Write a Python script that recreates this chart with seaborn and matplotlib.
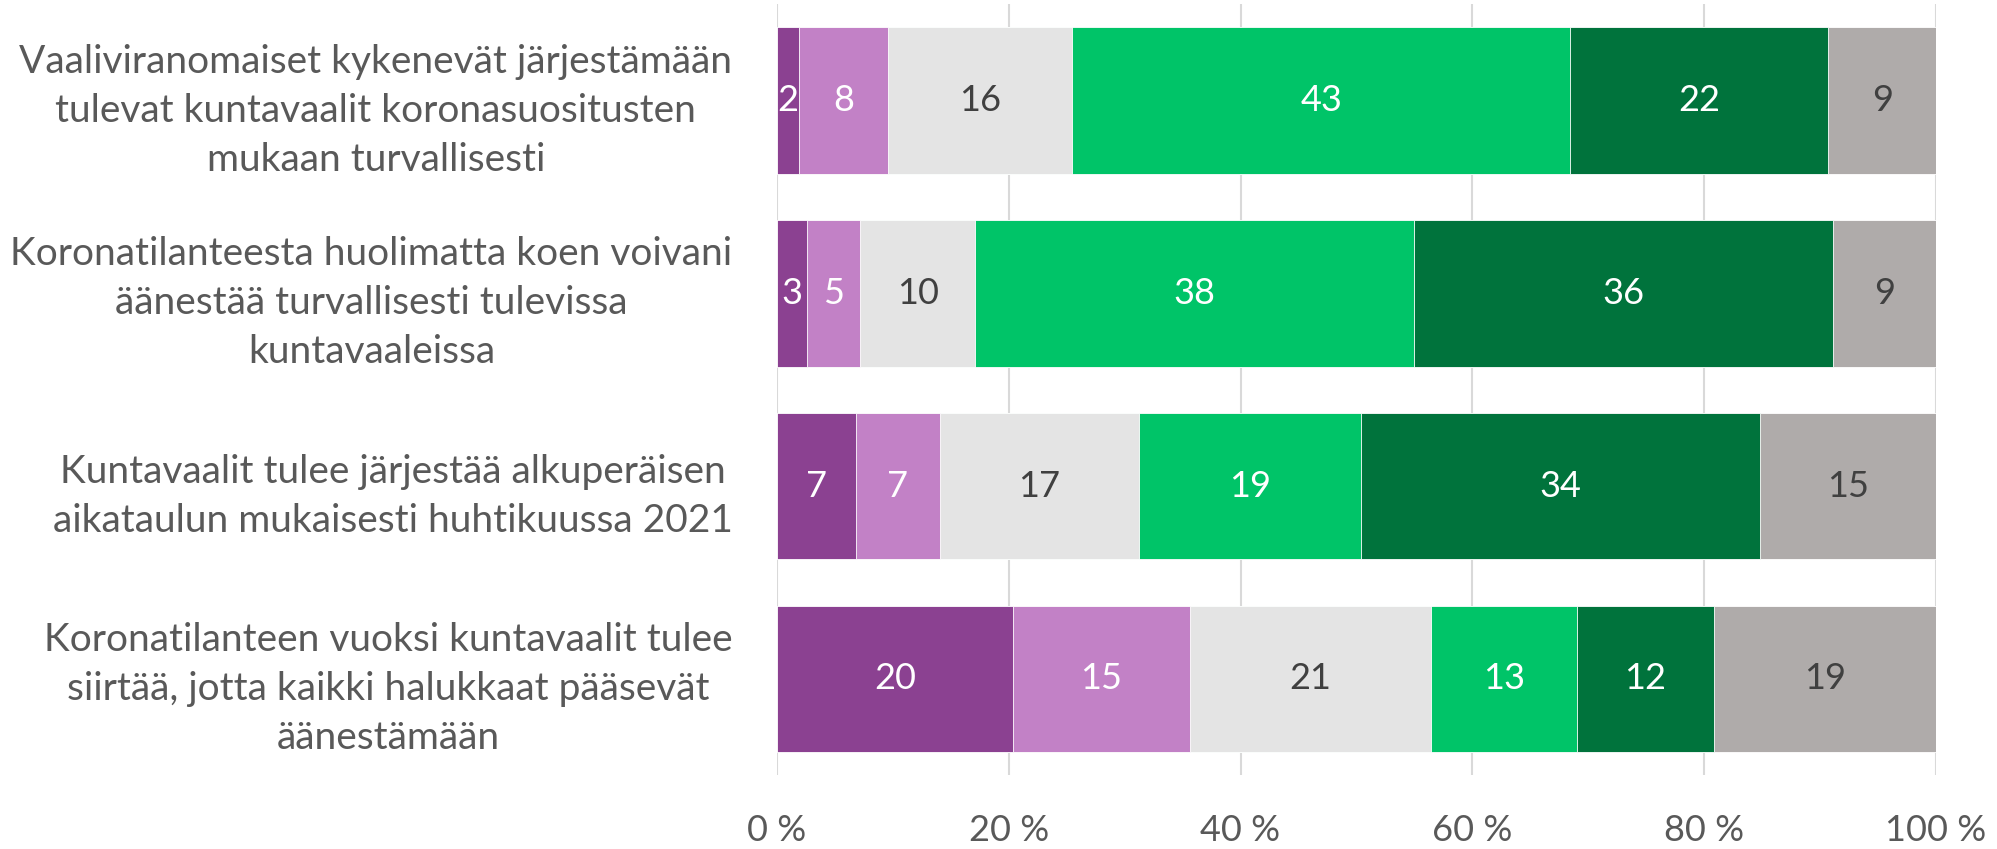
import numpy as np
import pandas as pd
import matplotlib
matplotlib.use("Agg")
import matplotlib.pyplot as plt
import seaborn as sns

# ---- data ----
statements = [
    "Vaaliviranomaiset kykenevät järjestämään\ntulevat kuntavaalit koronasuositusten\nmukaan turvallisesti",
    "Koronatilanteesta huolimatta koen voivani\näänestää turvallisesti tulevissa\nkuntavaaleissa",
    "Kuntavaalit tulee järjestää alkuperäisen\naikataulun mukaisesti huhtikuussa 2021",
    "Koronatilanteen vuoksi kuntavaalit tulee\nsiirtää, jotta kaikki halukkaat pääsevät\näänestämään",
]
series_names = ["Täysin eri mieltä", "Jokseenkin eri mieltä", "Ei samaa eikä eri mieltä",
                "Jokseenkin samaa mieltä", "Täysin samaa mieltä", "En osaa sanoa"]
s1 = [1.9, 2.6, 6.8, 20.4]
s2 = [7.7, 4.6, 7.3, 15.2]
s3 = [15.9, 9.9, 17.1, 20.8]
s4 = [42.9, 37.9, 19.2, 12.6]
s5 = [22.3, 36.1, 34.4, 11.8]
s6 = [9.3, 8.9, 15.2, 19.2]
x_ticks = [0, 20, 40, 60, 80, 100]
x_tick_labels = ["0 %", "20 %", "40 %", "60 %", "80 %", "100 %"]

colors = ["#8B4191", "#C281C6", "#E4E4E4", "#00C468", "#00733C", "#AFABAA"]
text_colors = ["white", "white", "#404040", "white", "white", "#404040"]

series = [s1, s2, s3, s4, s5, s6]
df = pd.DataFrame({name: vals for name, vals in zip(series_names, series)})
df["statement"] = statements
cum = df[series_names].cumsum(axis=1)

sns.set_theme(style="white")
plt.rcParams["font.family"] = ["Lato", "DejaVu Sans"]

fig = plt.figure(figsize=(19.97, 8.49), dpi=100)
ax = fig.add_axes([0.389, 0.087, 0.5805, 0.908])

for i in range(len(series_names) - 1, -1, -1):
    name = series_names[i]
    sns.barplot(x=cum[name], y=df["statement"], orient="h", color=colors[i],
                width=0.76, saturation=1, ax=ax, edgecolor="white", linewidth=0.6,
                zorder=3)

# value labels
for i, name in enumerate(series_names):
    left = cum[name] - df[name]
    for r in range(len(statements)):
        v = df[name].iloc[r]
        ax.text(left.iloc[r] + v / 2, r, f"{v:.0f}", ha="center", va="center",
                color=text_colors[i], fontsize=26, zorder=5)

ax.set_xlim(0, 100)
ax.set_ylim(3.5, -0.5)
ax.set_xticks(x_ticks)
ax.set_xticklabels(x_tick_labels)
ax.set_xlabel("")
ax.set_ylabel("")
ax.grid(axis="x", color="#D9D9D9", linewidth=1.5, zorder=0)
ax.grid(axis="y", visible=False)
ax.set_axisbelow(True)
for sp in ax.spines.values():
    sp.set_visible(False)
ax.tick_params(axis="x", length=0, pad=28, labelsize=26, labelcolor="#595959")
ax.tick_params(axis="y", length=0, pad=32, labelsize=28, labelcolor="#595959")
for t in ax.get_yticklabels():
    t.set_multialignment("center")
    t.set_linespacing(1.45)

fig.savefig("out.png", dpi=100)
